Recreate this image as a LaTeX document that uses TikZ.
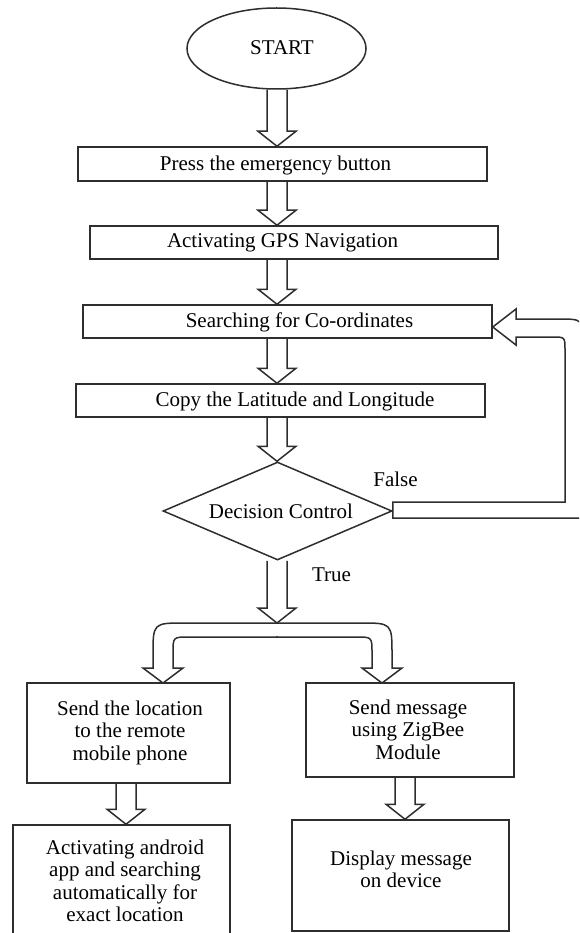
\documentclass[tikz,border=0pt]{standalone}
\usepackage{fontspec}
\setmainfont{Liberation Serif}
\usetikzlibrary{shapes.geometric,calc}
\definecolor{linec}{gray}{0.18}
\tikzset{
 box/.style={draw=linec, line width=1.5pt, rectangle, inner sep=0pt},
 txt/.style={font=\fontsize{21}{22.5}\selectfont, align=center, inner sep=0pt, text=black},
 blk/.style={draw=linec, line width=1.5pt, line join=miter},
}
\newcommand{\blkdown}[3]{\draw[blk] let \p1=(#2), \p2=(#3) in
 ({(#1-10)*1pt},\y1) -- ({(#1-10)*1pt},{\y2+15pt}) -- ({(#1-19)*1pt},{\y2+15pt}) -- ({#1*1pt},\y2) -- ({(#1+19)*1pt},{\y2+15pt}) -- ({(#1+10)*1pt},{\y2+15pt}) -- ({(#1+10)*1pt},\y1);}
\begin{document}
\begin{tikzpicture}[x=1pt,y=-1pt]
\useasboundingbox (0,0) rectangle (579,933);
\fill[white] (0,0) rectangle (579,933);
\clip (0,0) rectangle (579,933);

\node[box, ellipse, minimum width=179pt, minimum height=81pt] (start) at (276.5,48.5) {};
\node[txt] (startt) at (282,48) {START};
\node[box, minimum width=409pt, minimum height=34pt] (b1) at (282.5,164) {};
\node[txt] (b1t) at (275.5,165) {Press the emergency button};
\node[box, minimum width=408pt, minimum height=33pt] (b2) at (294,242.5) {};
\node[txt] (b2t) at (282.5,243) {Activating GPS Navigation};
\node[box, minimum width=409pt, minimum height=33pt] (b3) at (287.5,321.5) {};
\node[txt] (b3t) at (299.5,322) {Searching for Co-ordinates};
\node[box, minimum width=409pt, minimum height=33pt] (b4) at (280.5,400.5) {};
\node[txt] (b4t) at (295,401) {Copy the Latitude and Longitude};
\node[box, diamond, minimum width=229pt, minimum height=98pt] (dec) at (277.5,511) {};
\node[txt] (dect) at (281,511) {Decision Control};
\node[txt] (false) at (395.5,479) {False};
\node[txt] (true) at (331.5,575) {True};

\node[box, minimum width=203pt, minimum height=100pt] (l1) at (128.5,733) {};
\node[txt] (l1t) at (130,732.5) {Send the location\\to the remote\\mobile phone};
\node[box, minimum width=208pt, minimum height=94pt] (r1) at (410,730) {};
\node[txt] (r1t) at (408,729.5) {Send message\\using ZigBee\\Module};
\node[box, minimum width=217pt, minimum height=120pt] (l2) at (121.5,885) {};
\node[txt] (l2t) at (125,881) {Activating android\\app and searching\\automatically for\\exact location};
\node[box, minimum width=217pt, minimum height=111pt] (r2) at (400.5,875.5) {};
\node[txt] (r2t) at (401,869.5) {Display message\\on device};

\coordinate (split) at (277,623);

\blkdown{277}{start.south}{b1.north}
\blkdown{277}{b1.south}{b2.north}
\blkdown{277}{b2.south}{b3.north}
\blkdown{277}{b3.south}{b4.north}
\blkdown{277}{b4.south}{dec.north}
\blkdown{277}{dec.south}{split}
\blkdown{126}{l1.south}{l2.north}
\blkdown{405}{r1.south}{r2.north}

% split arrow
\draw[blk] (163,683) -- (143,668) -- (153,668) -- (153,655) .. controls (153,623) .. (185,623)
 -- (360,623) .. controls (392,623) .. (392,655) -- (392,668) -- (402,668) -- (382,683)
 -- (362,668) -- (372,668) -- (372,653) .. controls (372,637) .. (356,637)
 -- (189,637) .. controls (173,637) .. (173,653) -- (173,668) -- (183,668) -- cycle;
\fill[linec] (277,637) circle (1.1pt);

% feedback arrow
\draw[blk] ([yshift=9pt]dec.east) -- (565,502) -- (565,350) .. controls (565,337) .. (552,337)
 -- (516,337) -- (516,345) -- ([yshift=-5.5pt]b3.east) -- (516,309) -- (516,319)
 -- (558,319) .. controls (583,319) .. (583,344) -- (583,518) -- ([yshift=-7pt]dec.east) -- cycle;
\end{tikzpicture}
\end{document}
